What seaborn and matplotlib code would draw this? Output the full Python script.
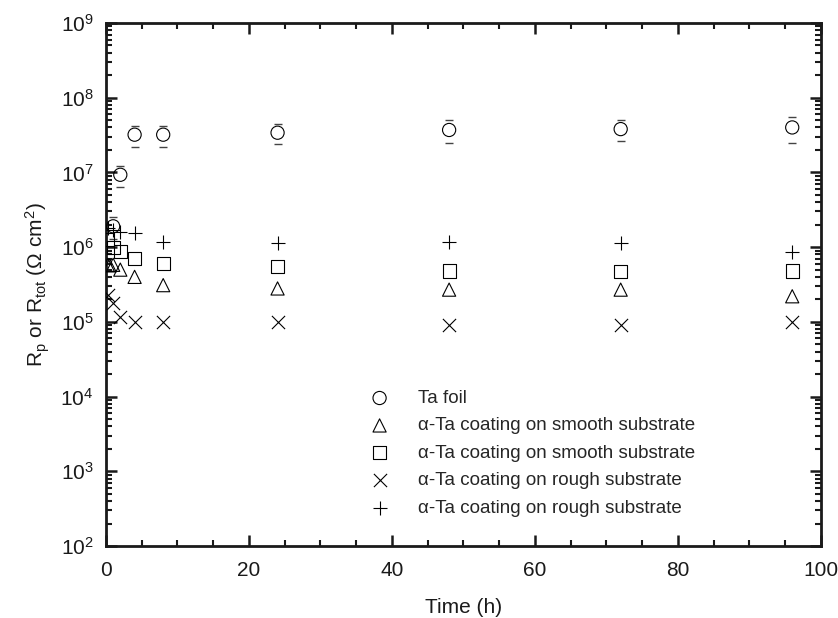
import numpy as np
import pandas as pd
import matplotlib
matplotlib.use("Agg")
import matplotlib.pyplot as plt
import seaborn as sns
from matplotlib.ticker import LogLocator, MultipleLocator, NullFormatter

# ---- data ----
t_foil = [1, 2, 4, 8, 24, 48, 72, 96]
r_foil = [1.9e6, 9.3e6, 3.2e7, 3.2e7, 3.4e7, 3.7e7, 3.8e7, 4.0e7]
foil_err_hi = [0.6e6, 3.0e6, 1.0e7, 1.0e7, 1.0e7, 1.3e7, 1.3e7, 1.6e7]
foil_err_lo = [0.6e6, 2.9e6, 1.0e7, 1.0e7, 1.0e7, 1.2e7, 1.2e7, 1.5e7]

t_tri = [0.25, 0.5, 1, 2, 4, 8, 24, 48, 72, 96]
r_tri = [5.8e5, 5.7e5, 5.8e5, 5.0e5, 4.0e5, 3.1e5, 2.8e5, 2.7e5, 2.7e5, 2.2e5]

t_sq = [0.25, 1, 2, 4, 8, 24, 48, 72, 96]
r_sq = [1.25e6, 1.0e6, 8.7e5, 7.0e5, 6.0e5, 5.5e5, 4.8e5, 4.7e5, 4.8e5]

t_x = [0.25, 1, 2, 4, 8, 24, 48, 72, 96]
r_x = [2.3e5, 1.8e5, 1.15e5, 1.0e5, 1.0e5, 1.0e5, 9.2e4, 9.0e4, 1.0e5]

t_plus = [0.25, 1, 2, 4, 8, 24, 48, 72, 96]
r_plus = [1.8e6, 1.7e6, 1.6e6, 1.55e6, 1.18e6, 1.15e6, 1.18e6, 1.15e6, 8.7e5]

labels = ["Ta foil",
          "\u03b1-Ta coating on smooth substrate",
          "\u03b1-Ta coating on smooth substrate",
          "\u03b1-Ta coating on rough substrate",
          "\u03b1-Ta coating on rough substrate"]

x_ticks = [0, 20, 40, 60, 80, 100]

# ---- style ----
sns.set_theme(style="ticks")
plt.rcParams["font.family"] = ["Liberation Sans", "DejaVu Sans"]
plt.rcParams["mathtext.fontset"] = "custom"
plt.rcParams["mathtext.rm"] = "Liberation Sans"
plt.rcParams["mathtext.it"] = "Liberation Sans:italic"
plt.rcParams["mathtext.bf"] = "Liberation Sans:bold"

fig = plt.figure(figsize=(8.38, 6.18), dpi=100)
ax = fig.add_axes([0.1265, 0.1165, 0.853, 0.8463])

s = 90
lw = 0.8
sns.scatterplot(x=t_foil, y=r_foil, marker="o", s=s, facecolors="none",
                edgecolor="black", linewidth=lw, ax=ax, label=labels[0], zorder=3)
ax.errorbar(t_foil, r_foil, yerr=[foil_err_lo, foil_err_hi], fmt="none",
            ecolor="#444444", elinewidth=0, capsize=3.2, capthick=1.0, zorder=2)
sns.scatterplot(x=t_tri, y=r_tri, marker="^", s=s, facecolors="none",
                edgecolor="black", linewidth=lw, ax=ax, label=labels[1], zorder=3)
sns.scatterplot(x=t_sq, y=r_sq, marker="s", s=s, facecolors="none",
                edgecolor="black", linewidth=lw, ax=ax, label=labels[2], zorder=3)
sns.scatterplot(x=t_x, y=r_x, marker="x", s=s, color="black",
                linewidth=lw, ax=ax, label=labels[3], zorder=3)
sns.scatterplot(x=t_plus, y=r_plus, marker="+", s=s * 1.2, color="black",
                linewidth=lw, ax=ax, label=labels[4], zorder=3)

ax.set_yscale("log")
ax.set_ylim(1e2, 1e9)
ax.set_xlim(0, 100)
ax.set_xticks(x_ticks)
ax.xaxis.set_minor_locator(MultipleLocator(5))
ax.yaxis.set_major_locator(LogLocator(base=10, numticks=20))
ax.yaxis.set_minor_locator(LogLocator(base=10, subs=np.arange(2, 10), numticks=100))
ax.yaxis.set_minor_formatter(NullFormatter())

for sp in ax.spines.values():
    sp.set_visible(True)
    sp.set_linewidth(2.0)
    sp.set_color("#1a1a1a")

ax.tick_params(which="both", direction="in", top=True, right=True,
               color="#1a1a1a", labelsize=15, labelcolor="#1a1a1a")
ax.tick_params(which="major", length=8, width=1.8, pad=9)
ax.tick_params(axis="x", which="major", pad=11)
ax.tick_params(which="minor", length=4.5, width=1.5)

ax.set_xlabel("Time (h)", fontsize=15, labelpad=13, color="#1a1a1a")
ax.set_ylabel(r"R$_{\mathrm{p}}$ or R$_{\mathrm{tot}}$ ($\Omega$ cm$^{2}$)",
              fontsize=15, labelpad=6, color="#1a1a1a")

leg = ax.legend(loc="upper left", bbox_to_anchor=(0.346, 0.313), frameon=False,
                fontsize=13.5, handletextpad=1.03, labelspacing=0.55,
                borderaxespad=0)

fig.savefig("out.png", dpi=100)
